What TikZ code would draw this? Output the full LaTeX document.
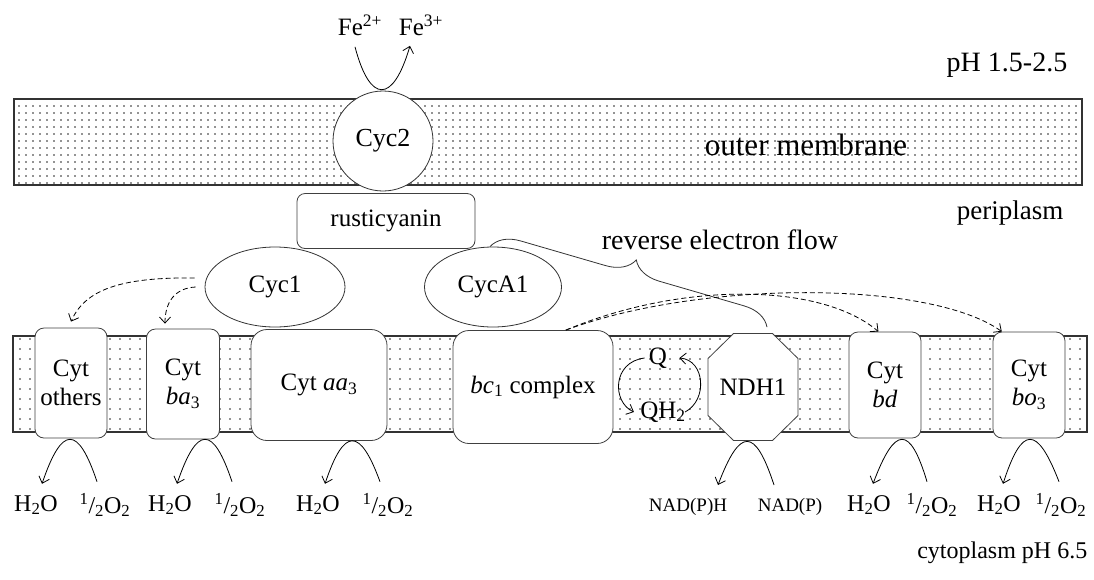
\documentclass[tikz,border=0pt]{standalone}
\usepackage{fontspec}
\setmainfont{Liberation Serif}
\usetikzlibrary{arrows.meta,shapes.geometric,calc,decorations.pathreplacing,patterns.meta}

\begin{document}
\begin{tikzpicture}[
    x=1pt, y=-1pt, line width=0.8pt,
    prot/.style={draw=black!75, fill=white, rounded corners=9pt, align=center, font=\fontsize{25}{29}\selectfont, inner sep=0pt},
    globule/.style={draw=black!80, fill=white, ellipse, minimum width=140pt, minimum height=80pt, inner sep=0pt, font=\fontsize{25}{29}\selectfont},
    chem/.style={font=\fontsize{24}{27}\selectfont, inner sep=2pt},
    nad/.style={font=\fontsize{19}{22}\selectfont, inner sep=2pt},
    lbl/.style={font=\fontsize{28}{31}\selectfont},
    arr/.style={-{Straight Barb[length=6pt,width=11pt]}},
    darr/.style={-{Straight Barb[length=6pt,width=11pt]}, dash pattern=on 5pt off 3pt}
]
\useasboundingbox (0,0) rectangle (1094,579);

% outer membrane
\fill[pattern={Dots[distance=6.5pt,radius=0.9pt]}, pattern color=black!85] (14,99) rectangle (1082,185);
\draw[line width=1.2pt, black!80] (14,99) rectangle (1082,185);
\node[font=\fontsize{31}{34}\selectfont] (omlab) at (806,145) {outer membrane};

\node[draw=black!80, fill=white, circle, minimum size=100pt, inner sep=0pt, font=\fontsize{26}{29}\selectfont] (cyc2) at (383,141) {Cyc2};
\node[chem, font=\fontsize{25}{28}\selectfont] (fe2) at (360,25) {Fe\textsuperscript{2+}};
\node[chem, font=\fontsize{25}{28}\selectfont] (fe3) at (421,25) {Fe\textsuperscript{3+}};
\draw[arr] ([shift={(-5,9)}]fe2.south) .. controls (370,104) and (393,104) .. ([shift={(-11,8)}]fe3.south);

\node[prot, rounded corners=8pt, minimum width=178pt, minimum height=55pt] (rus) at (386,221) {rusticyanin};
\node[globule] (cyc1) at (275,287) {Cyc1};
\node[globule, minimum width=137pt] (cyca1) at (493,287) {CycA1};

% inner membrane
\fill[pattern={Dots[distance=10pt,radius=0.9pt]}, pattern color=black!85] (13,336) rectangle (1087,432);
\draw[line width=1.2pt, black!80] (13,336) rectangle (1087,432);

\node[prot, minimum width=72pt, minimum height=110pt] (others) at (71,383) {Cyt\\others};
\node[prot, minimum width=73pt, minimum height=110pt] (ba3) at (183,384) {Cyt\\\textit{ba}\textsubscript{3}};
\node[prot, rounded corners=16pt, minimum width=136pt, minimum height=111pt] (aa3) at (319,385) {Cyt \textit{aa}\textsubscript{3}};
\node[prot, rounded corners=16pt, minimum width=160pt, minimum height=113pt] (bc1) at (533,387) {\textit{bc}\textsubscript{1} complex};
\node[prot, minimum width=72pt, minimum height=106pt] (bd) at (885,385) {Cyt\\\textit{bd}};
\node[prot, minimum width=72pt, minimum height=106pt] (bo3) at (1029,385) {Cyt\\\textit{bo}\textsubscript{3}};

\coordinate (ndhc) at (753,387);
\draw[black!75, fill=white] (ndhc) ++(-19.5,-53.5) -- ++(39,0) -- ++(25.5,25) -- ++(0,57) -- ++(-25.5,25) -- ++(-39,0) -- ++(-25.5,-25) -- ++(0,-57) -- cycle;
\node[chem, font=\fontsize{25}{28}\selectfont, minimum width=90pt, minimum height=107pt, inner sep=0pt] (ndh) at (ndhc) {NDH1};

\node[chem, font=\fontsize{25}{28}\selectfont] (q) at (658,358) {Q};
\node[chem, font=\fontsize{25}{28}\selectfont] (qh2) at (663,412) {QH\textsubscript{2}};
\draw[arr] ([xshift=-2pt]q.west) .. controls (612,362) and (612,402) .. ([xshift=-4pt]qh2.west);
\draw[arr] ([xshift=-3pt]qh2.east) .. controls (708,400) and (705,360) .. ([xshift=10pt]q.east);

% reverse electron flow
\draw[black!80, decorate, decoration={brace, amplitude=28pt}] ([xshift=-3pt]cyca1.north) -- ([shift={(14,-6)}]ndh.north);
\node[lbl] (rev) at (720,240) {reverse electron flow};

\draw[darr] (bc1.60) .. controls (680,282) and (820,282) .. (bd.97);
\draw[darr] (bc1.60) .. controls (700,280) and (930,280) .. (bo3.117);
\draw[darr] ([shift={(-10,-9)}]cyc1.west) .. controls (120,277) and (85,290) .. ([yshift=6pt]others.north);
\draw[darr] ([xshift=-9pt]cyc1.west) .. controls (175,288) and (165,302) .. ([shift={(-18,-5)}]ba3.north);

% products
\node[chem] (ha) at (36,505) {H\textsubscript{2}O};
\node[chem] (oa) at (105,505) {\textsuperscript{1}/\textsubscript{2}O\textsubscript{2}};
\node[chem] (hb) at (170,505) {H\textsubscript{2}O};
\node[chem] (ob) at (240,505) {\textsuperscript{1}/\textsubscript{2}O\textsubscript{2}};
\node[chem] (hc) at (318,505) {H\textsubscript{2}O};
\node[chem] (oc) at (388,505) {\textsuperscript{1}/\textsubscript{2}O\textsubscript{2}};
\node[nad] (hd) at (688,507) {NAD(P)H};
\node[nad] (od) at (790,507) {NAD(P)};
\node[chem] (he) at (869,505) {H\textsubscript{2}O};
\node[chem] (oe) at (932,505) {\textsuperscript{1}/\textsubscript{2}O\textsubscript{2}};
\node[chem] (hf) at (999,505) {H\textsubscript{2}O};
\node[chem] (of) at (1061,505) {\textsuperscript{1}/\textsubscript{2}O\textsubscript{2}};

\draw[arr] ([shift={(-8,-9)}]oa.north) .. controls (78,425) and (62,425) .. ([shift={(6,-9)}]ha.north);
\draw[arr] ([shift={(-8,-9)}]ob.north) .. controls (213,425) and (197,425) .. ([shift={(7,-9)}]hb.north);
\draw[arr] ([shift={(-8,-9)}]oc.north) .. controls (360,427) and (344,427) .. ([shift={(7,-9)}]hc.north);
\draw[arr] ([shift={(-16,-11)}]od.north) .. controls (755,427) and (740,427) .. ([shift={(30,-11)}]hd.north);
\draw[arr] ([shift={(-5,-9)}]oe.north) .. controls (910,425) and (895,425) .. ([shift={(4,-9)}]he.north);
\draw[arr] ([shift={(-2,-9)}]of.north) .. controls (1037,425) and (1022,425) .. ([shift={(4,-9)}]hf.north);

% compartments
\node[lbl] (ph) at (1007,65) {pH 1.5-2.5};
\node[lbl, font=\fontsize{27}{30}\selectfont] (peri) at (1010,213) {periplasm};
\node[lbl, font=\fontsize{24}{27}\selectfont, anchor=east] (cyto) at (1091,553) {cytoplasm pH 6.5};
\end{tikzpicture}
\end{document}
